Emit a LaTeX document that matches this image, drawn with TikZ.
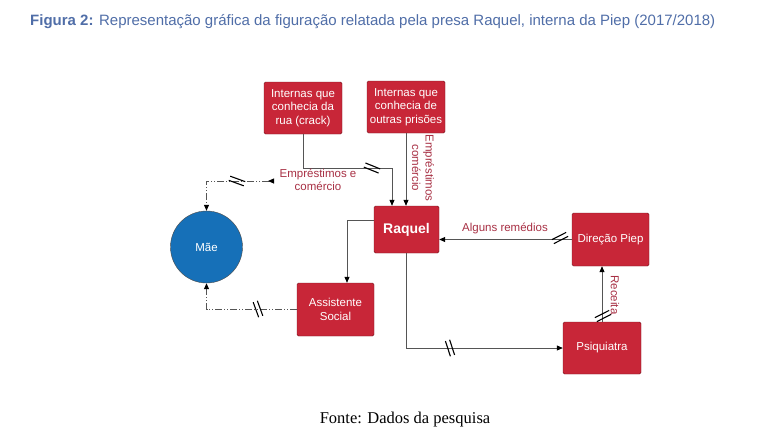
\documentclass[tikz,border=0pt]{standalone}
\usepackage{fontspec}
\setmainfont{Liberation Sans}
\newfontfamily\fontefont{Liberation Serif}
\usetikzlibrary{arrows.meta,calc}
\definecolor{boxred}{RGB}{200,38,56}
\definecolor{boxedge}{RGB}{120,25,35}
\definecolor{maeblue}{RGB}{22,112,184}
\definecolor{labred}{RGB}{168,48,68}
\definecolor{capblue}{RGB}{80,110,168}
\definecolor{linegray}{RGB}{85,85,85}
\tikzset{
  actor/.style={draw=boxedge,fill=boxred,rounded corners=1.5pt,text=white,align=center,
    minimum width=78pt,minimum height=52pt,inner sep=1pt,font=\fontsize{11.5}{13.5}\selectfont},
  link/.style={draw=linegray,line width=0.8pt,-{Triangle[length=6pt,width=5pt,black]}},
  weak/.style={link,dash pattern=on 7pt off 2pt on 1pt off 2pt on 1pt off 2pt},
  lab/.style={text=labred,align=center,font=\fontsize{11.5}{13.5}\selectfont,inner sep=1pt},
  brk/.pic={\draw[black,line width=1.1pt] (-8,-2.2) -- (8,-2.2) (-8,2.2) -- (8,2.2);}
}
\begin{document}
\begin{tikzpicture}[x=1pt,y=-1pt]
  \useasboundingbox[fill=white] (0,0) rectangle (757,437);
  % caption
  \node[anchor=west,text=capblue,font=\fontsize{15}{18}\selectfont,inner sep=0pt] (caption) at (30,22)
    {\textbf{Figura 2:} Representação gráfica da figuração relatada pela presa Raquel, interna da Piep (2017/2018)};
  % actors
  \node[actor] (rua) at (303,108) {Internas que\\conhecia da\\rua (crack)};
  \node[actor] (prisoes) at (406,107) {Internas que\\conhecia de\\outras prisões};
  \node[actor,minimum width=65pt,minimum height=47pt,font=\bfseries\fontsize{14}{16}\selectfont] (raquel) at (406.5,229.5) {Raquel};
  \node[circle,draw=black!70,fill=maeblue,text=white,minimum size=72pt,inner sep=0pt,
    font=\fontsize{11.5}{13.5}\selectfont] (mae) at (206.5,247) {Mãe};
  \node[actor,minimum width=77pt,minimum height=53pt] (assist) at (335.5,309.5) {Assistente\\Social};
  \node[actor,minimum width=77pt,minimum height=53pt] (direcao) at (610.5,239.5) {Direção Piep};
  \node[actor] (psiq) at (602,348) {Psiquiatra};
  % connectors
  \draw[link] (rua.south) -- ++(0,34) -| ([xshift=-14.5pt]raquel.north);
  \draw[link] (prisoes.south) -- (prisoes.south |- raquel.north);
  \draw[link] ([yshift=9.5pt]raquel.west) -| ([xshift=11.5pt]assist.north);
  \draw[link] (raquel.south) |- (psiq.west);
  \draw[link] (direcao.west) -- (direcao.west -| raquel.east);
  \draw[link] (psiq.north) -- (psiq.north |- direcao.south);
  \draw[weak] (assist.west) -| (mae.south);
  \coordinate (loanend) at (274,181);
  \draw[weak,{Triangle[reversed,length=6pt,width=5pt,black]}-{Triangle[length=6pt,width=5pt,black]}] (loanend) -| (mae.north);
  % breaks
  \pic[rotate=-22] at (372,168) {brk};
  \pic[rotate=-20] at (237,181) {brk};
  \pic[rotate=-70] at (258,309) {brk};
  \pic[rotate=-72] at (450,348) {brk};
  \pic[rotate=27] at (560,238) {brk};
  \pic[rotate=27] at (603,316) {brk};
  % labels
  \node[lab] (lbrua) at (318,180) {Empréstimos e\\comércio};
  \node[lab,rotate=-90] (lbpris) at (423,168) {Empréstimos\\comércio};
  \node[lab] (lbdir) at (505,228) {Alguns remédios};
  \node[lab,rotate=-90] (lbrec) at (615,295) {Receita};
  \node[font=\fontefont\fontsize{16.5}{19}\selectfont] (fonte) at (405,420) {Fonte: Dados da pesquisa};
\end{tikzpicture}
\end{document}
